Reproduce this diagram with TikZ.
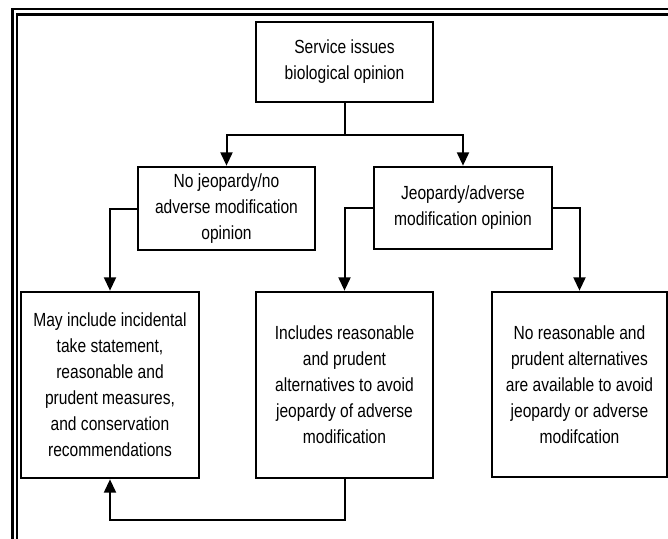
\documentclass[tikz,border=0pt]{standalone}
\usepackage{fontspec}
\setmainfont[FakeStretch=0.82]{Liberation Sans}
\usepackage{tikz}
\usetikzlibrary{arrows.meta}
\tikzset{
	box/.style={draw,line width=2pt,inner sep=0pt,align=center,font=\fontsize{14.25}{19.5}\selectfont},
	link/.style={line width=1.5pt,-{Triangle[length=10pt,width=9pt]}},
	frame/.style={line width=1.8pt}
}

\begin{document}
\begin{tikzpicture}[x=0.75pt,y=-0.75pt]
				\useasboundingbox (0,0) rectangle (668,539);
				\coordinate (p1) at (344.5,62);%service
				\coordinate (p2) at (226.5,208.5);%no jeopardy
				\coordinate (p3) at (463,208);%jeopardy
				\coordinate (p4) at (110,385);%incidental take
				\coordinate (p5) at (344.5,385);%alternatives
				\coordinate (p6) at (579.5,384.5);%no alternatives
				\coordinate (split) at (344.5,135);
				\coordinate (back) at (344.5,520);
				
				\draw[frame] (12.3,539) -- (12.3,9.2) -- (668,9.2);
				\draw[frame] (16.8,539) -- (16.8,14.5) -- (668,14.5);
				
				\node[box,minimum width=132.75pt,minimum height=60pt] (top) at (p1) {Service issues\\biological opinion};
				\node[box,minimum width=132.75pt,minimum height=62.25pt] (nojep) at (p2) {No jeopardy/no\\adverse modification\\opinion};
				\node[box,minimum width=133.5pt,minimum height=61.5pt] (jep) at (p3) {Jeopardy/adverse\\modification opinion};
				\node[box,minimum width=133.5pt,minimum height=139.5pt] (incl) at (p4) {May include incidental\\take statement,\\reasonable and\\prudent measures,\\and conservation\\recommendations};
				\node[box,minimum width=132.75pt,minimum height=139.5pt] (rpa) at (p5) {Includes reasonable\\and prudent\\alternatives to avoid\\jeopardy of adverse\\modification};
				\node[box,minimum width=131.25pt,minimum height=138.75pt] (norpa) at (p6) {No reasonable and\\prudent alternatives\\are available to avoid\\jeopardy or adverse\\modifcation};
				
				\draw[line width=1.5pt] (top.south) -- (split);
				\draw[link] (split) -| (nojep.north);
				\draw[link] (split) -| (jep.north);
				\draw[link] (nojep.west) -| (incl.north);
				\draw[link] (jep.west) -| (rpa.north);
				\draw[link] (jep.east) -| (norpa.north);
				\draw[link] (rpa.south) -- (back) -| (incl.south);
				
			\end{tikzpicture}
\end{document}
